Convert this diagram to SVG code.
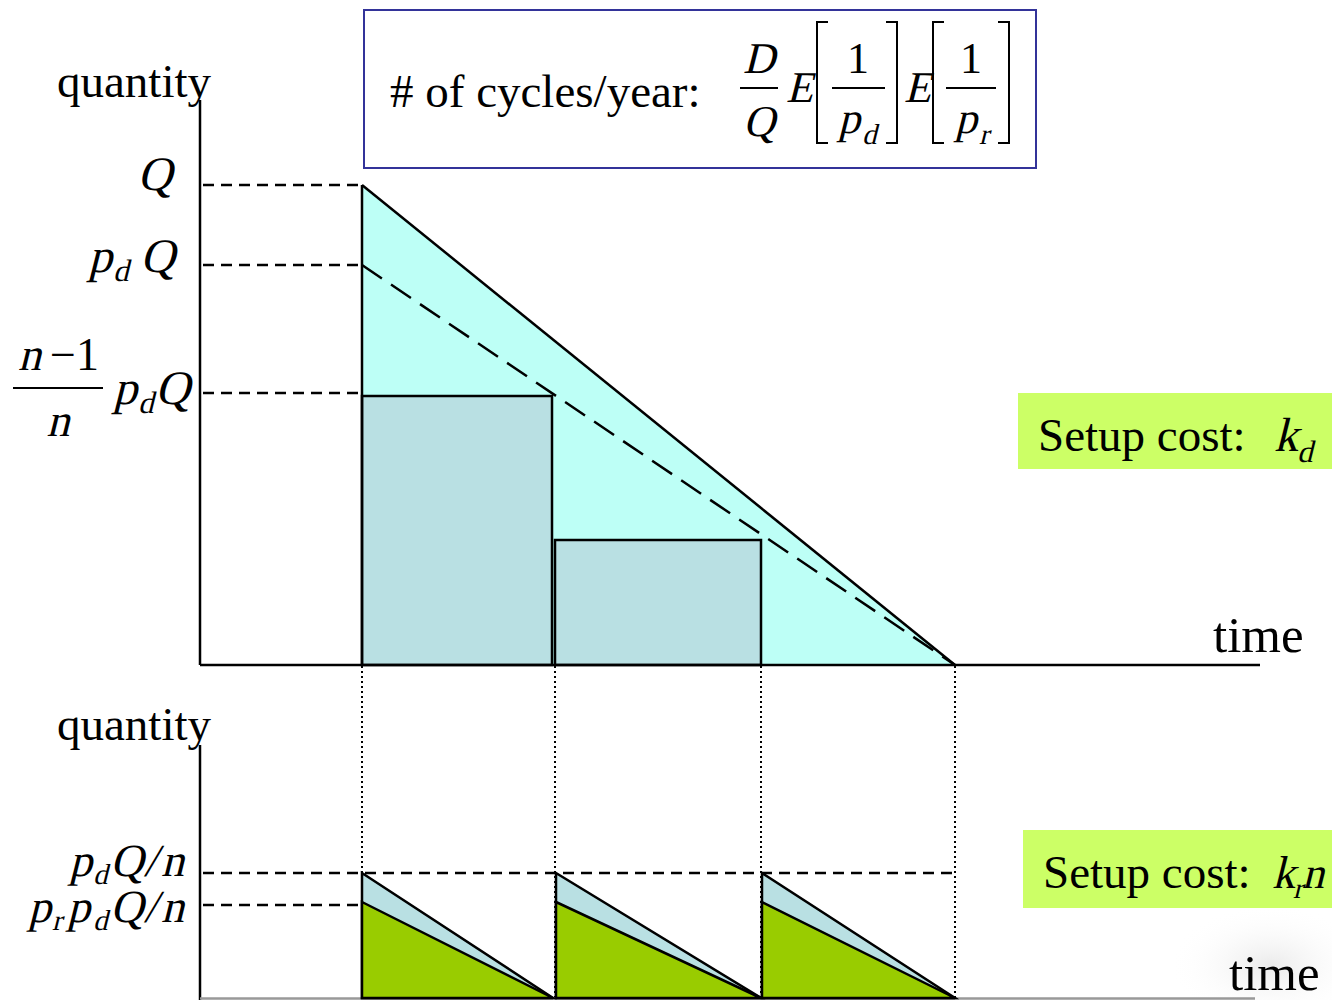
<svg xmlns="http://www.w3.org/2000/svg" width="1332" height="1000" viewBox="0 0 1332 1000">
<defs>
<style>
.t{font-family:"Liberation Serif","Times New Roman",serif;fill:#000}
.m{font-family:"Liberation Serif","Times New Roman",serif;fill:#000}
.ax{stroke:#000;stroke-width:2.5;fill:none}
.dash{stroke:#000;stroke-width:2.5;stroke-dasharray:11,7;fill:none}
.ldash{stroke:#000;stroke-width:2.5;stroke-dasharray:24,11;fill:none}
.dot{stroke:#000;stroke-width:2;stroke-dasharray:2,3;fill:none}
.ln{stroke:#000;stroke-width:2;fill:none}
.diag{stroke:#000;stroke-width:2.5;fill:none}
.box{fill:#B9E0E3;stroke:#000;stroke-width:2.5}
.grn{fill:#99CC00;stroke:#000;stroke-width:2.5}
.tri{fill:#B9E0E3;stroke:#000;stroke-width:2.5}
.setup{fill:#CCFF66}
</style>
<radialGradient id="wm" cx="0.5" cy="0.5" r="0.5">
<stop offset="0" stop-color="#e2e2e2" stop-opacity="0.7"/>
<stop offset="1" stop-color="#ffffff" stop-opacity="0"/>
</radialGradient>
</defs>
<rect width="1332" height="1000" fill="#fff"/>
<ellipse cx="1270" cy="965" rx="100" ry="60" fill="url(#wm)"/>

<!-- formula box -->
<g id="formula">
<rect x="364" y="10" width="672" height="158" fill="#fff" stroke="#333399" stroke-width="2"/>
<text class="t" x="390" y="107" font-size="47"># of cycles/year:</text>
<text class="m" transform="translate(759,73) skewX(-14)" font-size="44" text-anchor="middle">D</text>
<line class="ln" x1="740" y1="88" x2="778" y2="88"/>
<text class="m" transform="translate(759,136) skewX(-14)" font-size="44" text-anchor="middle">Q</text>
<text class="m" transform="translate(786,102) skewX(-14)" font-size="44">E</text>
<path class="ln" d="M828,22 H817 V143 H828 M886,22 H897 V143 H886"/>
<text class="t" x="858" y="73" font-size="44" text-anchor="middle">1</text>
<line class="ln" x1="832" y1="88" x2="885" y2="88"/>
<text class="m" transform="translate(838,133) skewX(-14)" font-size="44">p</text>
<text class="m" transform="translate(862,144) skewX(-14)" font-size="29">d</text>
<text class="m" transform="translate(904,102) skewX(-14)" font-size="44">E</text>
<path class="ln" d="M944,22 H933 V143 H944 M998,22 H1009 V143 H998"/>
<text class="t" x="971" y="73" font-size="44" text-anchor="middle">1</text>
<line class="ln" x1="946" y1="88" x2="996" y2="88"/>
<text class="m" transform="translate(955,133) skewX(-14)" font-size="44">p</text>
<text class="m" transform="translate(979,144) skewX(-14)" font-size="29">r</text>
</g>

<!-- top chart shapes -->
<g id="top-area">
<polygon points="362,185 955,665 362,665" fill="#BDFFF6"/>
<rect class="box" x="362" y="396" width="190" height="269"/>
<rect class="box" x="555" y="540" width="206" height="125"/>
</g>

<g id="connectors">
<line class="diag" x1="362" y1="185" x2="955" y2="665"/>
<line class="ldash" x1="362" y1="265" x2="955" y2="665"/>
<line class="ax" x1="362" y1="185" x2="362" y2="665"/>
<line class="dash" x1="203" y1="185" x2="362" y2="185"/>
<line class="dash" x1="203" y1="265" x2="362" y2="265"/>
<line class="dash" x1="203" y1="393" x2="362" y2="393"/>
<line class="dot" x1="362" y1="666" x2="362" y2="1000"/>
<line class="dot" x1="555" y1="666" x2="555" y2="1000"/>
<line class="dot" x1="761" y1="666" x2="761" y2="1000"/>
<line class="dot" x1="955" y1="666" x2="955" y2="1000"/>
<line class="dash" x1="203" y1="873" x2="955" y2="873"/>
<line class="dash" x1="203" y1="905" x2="362" y2="905"/>
</g>

<!-- axes -->
<g id="top-axes">
<line class="ax" x1="200" y1="100" x2="200" y2="665"/>
<line class="ax" x1="200" y1="665" x2="1260" y2="665"/>
<text class="t" x="57" y="97" font-size="47">quantity</text>
<text class="t" x="1213" y="652" font-size="51">time</text>
</g>

<g id="bottom-axes">
<line class="ax" x1="200" y1="745" x2="200" y2="1000"/>
<line x1="200" y1="998.5" x2="1255" y2="998.5" stroke="#999" stroke-width="2.5"/>
<text class="t" x="57" y="740" font-size="47">quantity</text>
<text class="t" x="1229" y="990" font-size="51">time</text>
</g>

<!-- bottom sawtooth -->
<g id="saw1">
<polygon class="tri" points="362,873 553,998 362,998"/>
<polygon class="grn" points="362,902 553,998 362,998"/>
</g>
<g id="saw2">
<polygon class="tri" points="556,873 761,998 556,998"/>
<polygon class="grn" points="556,902 761,998 556,998"/>
</g>
<g id="saw3">
<polygon class="tri" points="762,873 955,998 762,998"/>
<polygon class="grn" points="762,902 955,998 762,998"/>
</g>

<!-- y labels -->
<g id="label-Q">
<text class="m" transform="translate(172,190) skewX(-14)" font-size="48" text-anchor="end">Q</text>
</g>
<g id="label-pdQ">
<text class="m" transform="translate(88,272) skewX(-14)" font-size="48">p</text>
<text class="m" transform="translate(113,281) skewX(-14)" font-size="31">d</text>
<text class="m" transform="translate(140,272) skewX(-14)" font-size="48">Q</text>
</g>
<g id="label-frac">
<text class="m" transform="translate(18,370) skewX(-14)" font-size="46">n</text>
<text class="t" x="50" y="370" font-size="46">−1</text>
<line class="ln" x1="13" y1="388" x2="103" y2="388"/>
<text class="m" transform="translate(58,436) skewX(-14)" font-size="46" text-anchor="middle">n</text>
<text class="m" transform="translate(113,404) skewX(-14)" font-size="48">p</text>
<text class="m" transform="translate(138,413) skewX(-14)" font-size="31">d</text>
<text class="m" transform="translate(155,404) skewX(-14)" font-size="48">Q</text>
</g>
<g id="label-pdQn">
<text class="m" transform="translate(69,876) skewX(-14)" font-size="46">p</text>
<text class="m" transform="translate(93,884) skewX(-14)" font-size="29">d</text>
<text class="m" transform="translate(110,876) skewX(-14)" font-size="46">Q</text>
<text class="m" transform="translate(144,876) skewX(-14)" font-size="46">/</text>
<text class="m" transform="translate(161,876) skewX(-14)" font-size="46">n</text>
</g>
<g id="label-prpdQn">
<text class="m" transform="translate(28,922) skewX(-14)" font-size="46">p</text>
<text class="m" transform="translate(52,930) skewX(-14)" font-size="29">r</text>
<text class="m" transform="translate(67,922) skewX(-14)" font-size="46">p</text>
<text class="m" transform="translate(93,930) skewX(-14)" font-size="29">d</text>
<text class="m" transform="translate(110,922) skewX(-14)" font-size="46">Q</text>
<text class="m" transform="translate(144,922) skewX(-14)" font-size="46">/</text>
<text class="m" transform="translate(161,922) skewX(-14)" font-size="46">n</text>
</g>

<!-- setup cost boxes -->
<g id="setup-d">
<rect class="setup" x="1018" y="393" width="314" height="76"/>
<text class="t" x="1038" y="451" font-size="47">Setup cost:</text>
<text class="m" transform="translate(1274,451) skewX(-14)" font-size="48">k</text>
<text class="m" transform="translate(1297,462) skewX(-14)" font-size="31">d</text>
</g>
<g id="setup-r">
<rect class="setup" x="1023" y="830" width="309" height="78"/>
<text class="t" x="1043" y="888" font-size="47">Setup cost:</text>
<text class="m" transform="translate(1272,888) skewX(-14)" font-size="46">k</text>
<text class="m" transform="translate(1293,898) skewX(-14)" font-size="29">r</text>
<text class="m" transform="translate(1302,888) skewX(-14)" font-size="44">n</text>
</g>
</svg>
